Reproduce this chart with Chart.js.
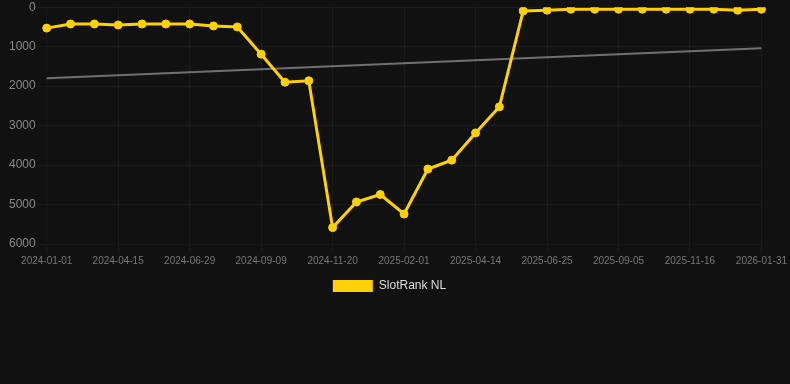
<!DOCTYPE html>
<html>
<head>
<meta charset="utf-8">
<script src="https://cdn.jsdelivr.net/npm/chart.js@4"></script>
<style>
  html, body { margin: 0; padding: 0; background: #111111; }
  #wrap { width: 790px; height: 302px; position: relative; }
</style>
</head>
<body>
<div id="wrap"><canvas id="rankChart"></canvas></div>
<script>
// dates on the x axis (only every 3rd one gets a label)
const fechas = [
  '2024-01-01', '2024-02-05', '2024-03-11', '2024-04-15', '2024-05-10', '2024-06-04',
  '2024-06-29', '2024-07-23', '2024-08-16', '2024-09-09', '2024-10-03', '2024-10-27',
  '2024-11-20', '2024-12-14', '2025-01-08', '2025-02-01', '2025-02-25', '2025-03-21',
  '2025-04-14', '2025-05-08', '2025-06-01', '2025-06-25', '2025-07-19', '2025-08-12',
  '2025-09-05', '2025-09-29', '2025-10-23', '2025-11-16', '2025-12-11', '2026-01-05',
  '2026-01-31'
];

// rank values (lower is better, axis is reversed)
const rankNL = [
  530, 425, 425, 450, 425, 425, 425, 475, 500, 1190, 1900, 1865,
  5585, 4935, 4745, 5240, 4100, 3875, 3185, 2525, 95, 75, 50, 50,
  50, 50, 50, 50, 50, 75, 50
];

// trend line, only start and end
const tendencia = [1800].concat(new Array(29).fill(null), [1040]);

const yTicks = [0, 1000, 2000, 3000, 4000, 5000, 6000];

const gold = 'rgb(255, 209, 0)';
const gridColor = 'rgba(255, 255, 255, 0.045)';

Chart.defaults.font.family = "'Liberation Sans', Arial, sans-serif";

const ctx = document.getElementById('rankChart').getContext('2d');
const chart = new Chart(ctx, {
  type: 'line',
  data: {
    labels: fechas,
    datasets: [
      {
        label: 'SlotRank NL',
        data: rankNL,
        borderColor: gold,
        backgroundColor: gold,
        borderWidth: 3,
        pointRadius: 4,
        pointBorderWidth: 1,
        pointBackgroundColor: gold,
        pointBorderColor: gold,
        tension: 0
      },
      {
        label: 'trend',
        data: tendencia,
        borderColor: 'rgba(255, 255, 255, 0.4)',
        borderWidth: 2,
        pointRadius: 0,
        spanGaps: true
      }
    ]
  },
  options: {
    responsive: true,
    maintainAspectRatio: false,
    animation: false,
    layout: {
      autoPadding: false,
      padding: { left: 9, top: 0, right: 20, bottom: 0 }
    },
    scales: {
      x: {
        grid: { color: gridColor },
        ticks: {
          color: '#777',
          font: { size: 10 },
          maxRotation: 0,
          autoSkip: true
        }
      },
      y: {
        reverse: true,
        min: 0,
        max: 6000,
        afterBuildTicks: (axis) => { axis.ticks = yTicks.map(v => ({ value: v })); },
        grid: { color: gridColor, tickLength: 11 },
        ticks: {
          color: '#888',
          font: { size: 12 },
          padding: 0,
          callback: (v) => String(v)
        }
      }
    },
    plugins: {
      legend: {
        position: 'bottom',
        labels: {
          color: '#ddd',
          font: { size: 12 },
          filter: (item) => item.text !== 'trend',
          generateLabels: (c) => {
            const items = Chart.defaults.plugins.legend.labels.generateLabels(c);
            items.forEach(it => { it.lineWidth = 0; });
            return items;
          }
        }
      },
      tooltip: { enabled: false }
    }
  }
});
</script>
</body>
</html>
